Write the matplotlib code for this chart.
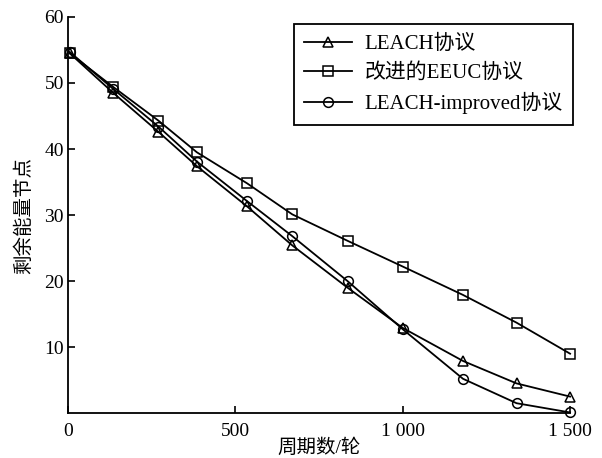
import matplotlib.pyplot as plt
import numpy as np

plt.rcParams['font.family'] = ['Liberation Serif', 'Noto Sans CJK SC']

rounds = [5, 135, 270, 385, 535, 670, 835, 1000, 1180, 1340, 1500]
leach = [54.5, 48.5, 42.6, 37.4, 31.3, 25.4, 19.0, 12.9, 7.9, 4.5, 2.5]
eeuc = [54.5, 49.4, 44.3, 39.5, 34.8, 30.1, 26.1, 22.2, 17.9, 13.7, 9.0]
improved = [54.7, 49.1, 43.4, 38.1, 32.1, 26.8, 20.0, 12.7, 5.2, 1.5, 0.1]

labels = ["LEACH协议", "改进的EEUC协议", "LEACH-improved协议"]
markers = ["^", "s", "o"]

fig = plt.figure(figsize=(6.02, 4.58), dpi=100)
ax = fig.add_axes([0.113, 0.098, 0.834, 0.865])

for y, m, lab in zip([leach, eeuc, improved], markers, labels):
    ax.plot(rounds, y, color="black", linewidth=1.3, marker=m, markersize=7,
            markerfacecolor="none", markeredgecolor="black", markeredgewidth=1.1,
            label=lab, clip_on=False)

ax.set_xlim(0, 1500)
ax.set_ylim(0, 60)
ax.set_xticks([0, 500, 1000, 1500])
ax.set_xticklabels(["0", "500", "1 000", "1 500"])
ax.set_yticks([10, 20, 30, 40, 50, 60])
ax.tick_params(direction="in", length=5, width=1.2, labelsize=14)
ax.tick_params(axis="x", pad=7)
ax.tick_params(axis="y", pad=3)
for s in ["top", "right"]:
    ax.spines[s].set_visible(False)
for s in ["left", "bottom"]:
    ax.spines[s].set_linewidth(1.3)

ax.set_xlabel("周期数/轮", fontsize=14, labelpad=-1)
ax.set_ylabel("剩余能量节点", fontsize=14, labelpad=8)

leg = ax.legend(loc="upper left", bbox_to_anchor=(0.488, 0.948),
                bbox_transform=fig.transFigure, fontsize=15,
                fancybox=False, edgecolor="black", framealpha=1,
                handlelength=2.3, handletextpad=0.6, borderpad=0.5,
                labelspacing=0.45, borderaxespad=0)
leg.get_frame().set_linewidth(1.3)

fig.savefig("out.png", dpi=100)
